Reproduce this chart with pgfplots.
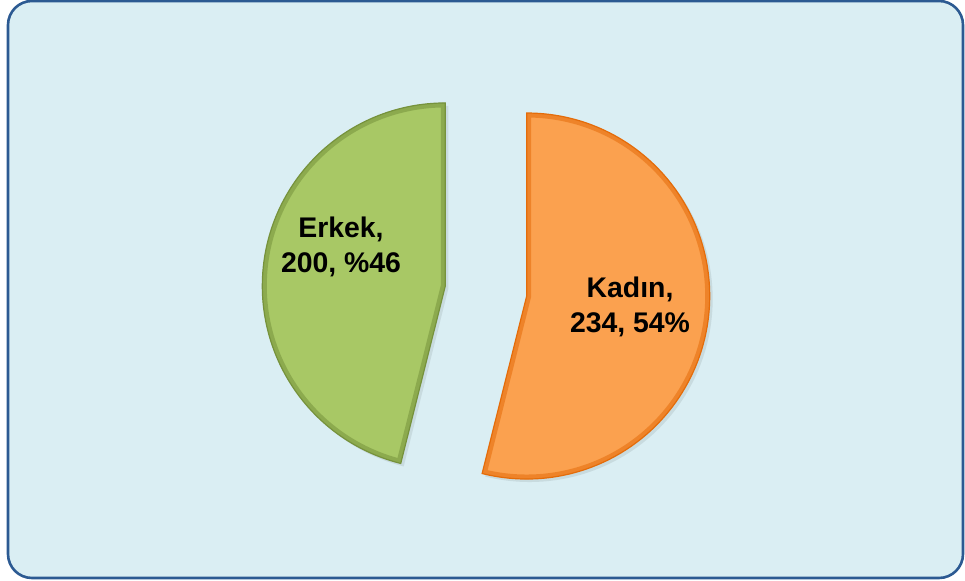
\documentclass[border=0pt]{standalone}
\usepackage{fontspec}
\setmainfont{Liberation Sans}
\usepackage{pgfplots}
\pgfplotsset{compat=1.18}
\definecolor{bgfill}{HTML}{DAEEF3}
\definecolor{framecol}{HTML}{2C5A92}
\definecolor{kadin}{HTML}{FBA14F}
\definecolor{kadinedge}{HTML}{E46C0A}
\definecolor{erkek}{HTML}{A8C865}
\definecolor{erkekedge}{HTML}{76923C}

% data
\def\kadinval{234}
\def\erkekval{200}
\pgfmathsetmacro{\kadinfrac}{\kadinval/(\kadinval+\erkekval)}
\pgfmathsetmacro{\kadindeg}{360*\kadinfrac}
\pgfmathsetmacro{\kadinend}{90-\kadindeg}
\pgfmathsetmacro{\erkekend}{90+360-\kadindeg}
\pgfmathsetmacro{\kadinmid}{90-\kadindeg/2}
\pgfmathsetmacro{\erkekmid}{90+(360-\kadindeg)/2}

\begin{document}
\begin{tikzpicture}
\useasboundingbox (0,0) rectangle (965bp,581bp);
\begin{axis}[at={(0,0)}, anchor=south west, scale only axis,
  width=965bp, height=581bp, xmin=0, xmax=965, ymin=0, ymax=581,
  hide axis, clip=false]
% frame
\draw[framecol, line width=2.6bp, fill=bgfill, rounded corners=24bp]
  (axis cs:8,3) rectangle (axis cs:963,580);
% shadows
\fill[black, opacity=0.08] ([shift={(\kadinmid:41bp)}]axis cs:489,287) -- ++(90:183bp)
  arc[start angle=90, end angle=\kadinend, radius=183bp] -- cycle;
\fill[black, opacity=0.08] ([shift={(\erkekmid:41bp)}]axis cs:489,287) -- ++(90:183bp)
  arc[start angle=90, end angle=\erkekend, radius=183bp] -- cycle;
% Kadin
\begin{scope}
\clip ([shift={(\kadinmid:41bp)}]axis cs:486,290) -- ++(90:183bp)
  arc[start angle=90, end angle=\kadinend, radius=183bp] -- cycle;
\fill[kadin] ([shift={(\kadinmid:41bp)}]axis cs:486,290) -- ++(90:183bp)
  arc[start angle=90, end angle=\kadinend, radius=183bp] -- cycle;
\draw[kadinedge, opacity=0.55, line width=9bp] ([shift={(\kadinmid:41bp)}]axis cs:486,290) -- ++(90:183bp)
  arc[start angle=90, end angle=\kadinend, radius=183bp] -- cycle;
\end{scope}
\draw[kadinedge, line width=1.2bp] ([shift={(\kadinmid:41bp)}]axis cs:486,290) -- ++(90:183bp)
  arc[start angle=90, end angle=\kadinend, radius=183bp] -- cycle;
% Erkek
\begin{scope}
\clip ([shift={(\erkekmid:41bp)}]axis cs:486,290) -- ++(90:183bp)
  arc[start angle=90, end angle=\erkekend, radius=183bp] -- cycle;
\fill[erkek] ([shift={(\erkekmid:41bp)}]axis cs:486,290) -- ++(90:183bp)
  arc[start angle=90, end angle=\erkekend, radius=183bp] -- cycle;
\draw[erkekedge, opacity=0.55, line width=9bp] ([shift={(\erkekmid:41bp)}]axis cs:486,290) -- ++(90:183bp)
  arc[start angle=90, end angle=\erkekend, radius=183bp] -- cycle;
\end{scope}
\draw[erkekedge, line width=1.2bp] ([shift={(\erkekmid:41bp)}]axis cs:486,290) -- ++(90:183bp)
  arc[start angle=90, end angle=\erkekend, radius=183bp] -- cycle;
% labels
\node[align=center, font=\fontsize{28.5}{35}\selectfont\bfseries]
  at (axis cs:341,334) {Erkek,\\200, \%46};
\node[align=center, font=\fontsize{28.5}{35}\selectfont\bfseries]
  at (axis cs:630,274) {Kadın,\\234, 54\%};
\end{axis}
\end{tikzpicture}
\end{document}
